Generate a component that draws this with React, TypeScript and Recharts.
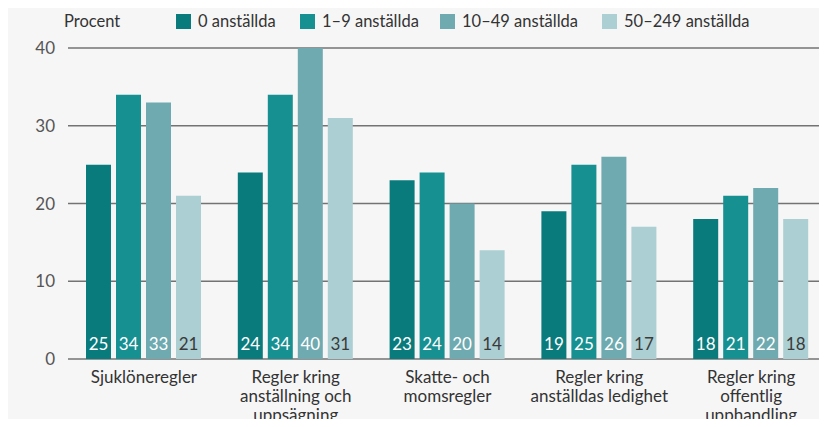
import React from 'react';
import { BarChart, Bar, XAxis, YAxis, CartesianGrid, LabelList } from 'recharts';

const categories = [
  'Sjuklöneregler',
  'Regler kring\nanställning och\nuppsägning',
  'Skatte- och\nmomsregler',
  'Regler kring\nanställdas ledighet',
  'Regler kring\noffentlig\nupphandling',
];

const seriesNames = ['0 anställda', '1–9 anställda', '10–49 anställda', '50–249 anställda'];
const seriesColors = ['#0a7b7d', '#179092', '#6eaab0', '#abcfd3'];
const labelColors = ['#ffffff', '#ffffff', '#ffffff', '#3a3a3a'];

const emp0 = [25, 24, 23, 19, 18];
const emp1to9 = [34, 34, 24, 25, 21];
const emp10to49 = [33, 40, 20, 26, 22];
const emp50to249 = [21, 31, 14, 17, 18];

const yTicks = [0, 10, 20, 30, 40];

const keys = ['s0', 's1', 's2', 's3'];
const data = categories.map((c, i) => ({
  name: c,
  s0: emp0[i],
  s1: emp1to9[i],
  s2: emp10to49[i],
  s3: emp50to249[i],
}));

const FONT = 'Lato, "Open Sans", sans-serif';

function CategoryTick(props: any) {
  const { x, y, payload } = props;
  const lines = String(payload.value).split('\n');
  return (
    <g transform={`translate(${x},${y})`}>
      {lines.map((line, i) => (
        <text
          key={i}
          x={0}
          y={16 + i * 19}
          textAnchor="middle"
          fill="#333"
          fontSize={17}
          fontFamily={FONT}
        >
          {line}
        </text>
      ))}
    </g>
  );
}

function makeValueLabel(color: string) {
  return (props: any) => {
    const { x, width, y, height, value } = props;
    return (
      <text
        x={x + width / 2}
        y={y + height - 9}
        textAnchor="middle"
        fill={color}
        fontSize={17}
        fontFamily={FONT}
      >
        {value}
      </text>
    );
  };
}

// legend is drawn as an overlay so it doesn't push the plot area down
function LegendBox() {
  return (
    <div style={{ position: 'absolute', left: 0, top: 0, width: 827, height: 36, fontFamily: FONT, fontSize: 16.5, color: '#333' }}>
      <span style={{ position: 'absolute', left: 64, top: 11 }}>Procent</span>
      {seriesNames.map((n, i) => (
        <span
          key={n}
          style={{ position: 'absolute', left: [176, 300, 440, 602][i], top: 11, display: 'flex', alignItems: 'center' }}
        >
          <span style={{ display: 'inline-block', width: 15, height: 15, background: seriesColors[i], marginRight: 7 }} />
          {n}
        </span>
      ))}
    </div>
  );
}

export default function App() {
  return (
    <div style={{ position: 'relative', width: 827, height: 427, background: '#fff', margin: -8, overflow: 'hidden' }}>
      <div style={{ position: 'absolute', left: 5, top: 8, right: 0, bottom: 0, background: '#f6f6f6' }} />
      <div style={{ position: 'absolute', left: 0, top: 0 }}>
        <BarChart
          width={827}
          height={427}
          data={data}
          margin={{ top: 48, right: 0, left: 0, bottom: 0 }}
          barGap={5}
          barSize={25}
        >
          <CartesianGrid vertical={false} stroke="#737373" strokeWidth={1.5} />
          <XAxis
            dataKey="name"
            height={68}
            axisLine={false}
            tickLine={false}
            interval={0}
            tick={<CategoryTick />}
          />
          <YAxis
            width={68}
            domain={[0, 40]}
            ticks={yTicks}
            axisLine={false}
            tickLine={false}
            tickMargin={7}
            tick={{ fill: '#555', fontSize: 17, fontFamily: FONT }}
          />
          {keys.map((k, i) => (
            <Bar key={k} dataKey={k} name={seriesNames[i]} fill={seriesColors[i]} isAnimationActive={false}>
              <LabelList dataKey={k} content={makeValueLabel(labelColors[i])} />
            </Bar>
          ))}
        </BarChart>
      </div>
      <LegendBox />
    </div>
  );
}
